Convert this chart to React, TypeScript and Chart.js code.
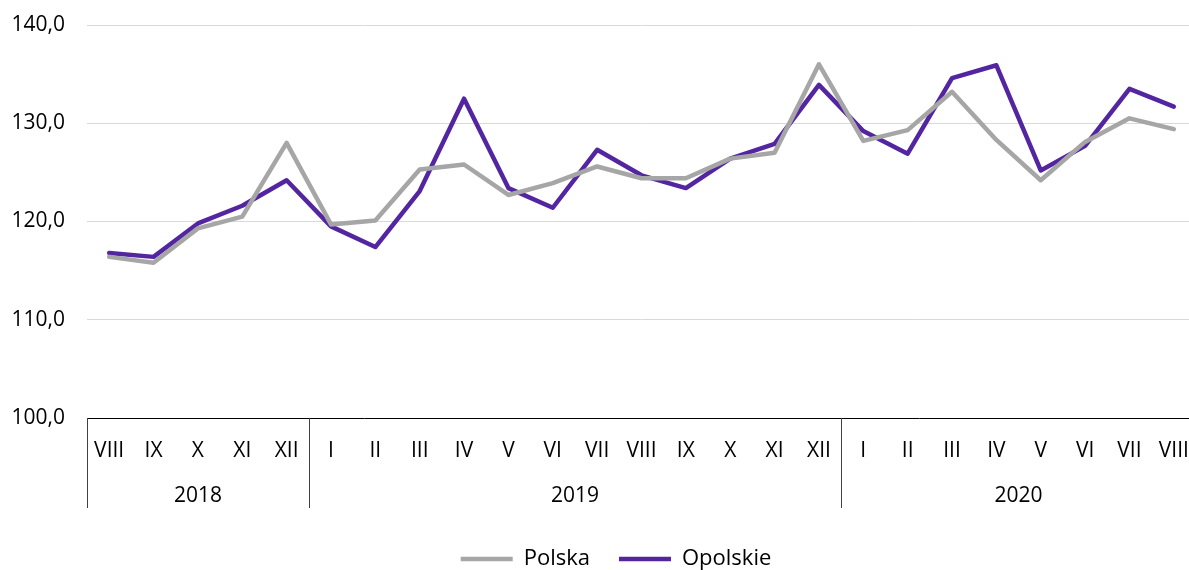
import React, { useEffect, useRef } from "react";
import { Chart, registerables } from "chart.js";

Chart.register(...registerables);

const months = ["VIII","IX","X","XI","XII","I","II","III","IV","V","VI","VII","VIII","IX","X","XI","XII","I","II","III","IV","V","VI","VII","VIII"];
const yearLabels = ["2018", "2019", "2020"];
const yearSpans = [5, 12, 8];

const polska = [116.4,115.8,119.3,120.5,128.0,119.7,120.1,125.3,125.8,122.7,123.9,125.6,124.4,124.4,126.4,127.0,136.0,128.2,129.3,133.2,128.3,124.2,128.1,130.5,129.4];
const opolskie = [116.8,116.4,119.8,121.6,124.2,119.5,117.4,123.1,132.5,123.4,121.4,127.3,124.7,123.4,126.4,127.9,133.9,129.2,126.9,134.6,135.9,125.2,127.7,133.5,131.7];

const yMin = 100;
const yMax = 140;
const yStep = 10;

const FONT = "'Open Sans', 'Noto Sans', sans-serif";
const GRAY = "#a6a6a6";
const PURPLE = "#5425a0";
const SEP_H = 90;
const X_AXIS_H = 101;
const LEGEND_SHIFT = 18;

const yearPlugin = {
  id: "yearGroups",
  afterLayout(chart: any) {
    if (chart.legend) {
      chart.legend.left += LEGEND_SHIFT;
      chart.legend.right += LEGEND_SHIFT;
    }
  },
  afterDraw(chart: any) {
    const { ctx, chartArea, scales } = chart;
    const x = scales.x;
    const top = chartArea.bottom;
    const bottom = top + SEP_H;
    const half = (x.getPixelForValue(1) - x.getPixelForValue(0)) / 2;
    ctx.save();
    ctx.strokeStyle = "#404040";
    ctx.lineWidth = 1;
    let idx = 0;
    const bounds: number[] = [x.getPixelForValue(0) - half];
    yearSpans.forEach((s) => {
      idx += s;
      bounds.push(x.getPixelForValue(idx - 1) + half);
    });
    bounds.slice(0, bounds.length - 1).forEach((bx) => {
      const px = Math.round(bx) + 0.5;
      ctx.beginPath();
      ctx.moveTo(px, top);
      ctx.lineTo(px, bottom);
      ctx.stroke();
    });
    ctx.fillStyle = "#000";
    ctx.font = `21px ${FONT}`;
    ctx.textAlign = "center";
    ctx.textBaseline = "middle";
    yearLabels.forEach((lab, i) => {
      ctx.fillText(lab, (bounds[i] + bounds[i + 1]) / 2, top + 78);
    });
    ctx.restore();
  },
};

export default function App() {
  const ref = useRef<HTMLCanvasElement>(null);
  useEffect(() => {
    if (!ref.current) return;
    const chart = new Chart(ref.current, {
      type: "line",
      data: {
        labels: months,
        datasets: [
          {
            label: "Polska",
            data: polska,
            borderColor: GRAY,
            backgroundColor: GRAY,
            borderWidth: 4.5,
            pointRadius: 0,
            borderJoinStyle: "round",
            borderCapStyle: "round",
            tension: 0,
          },
          {
            label: "Opolskie",
            data: opolskie,
            borderColor: PURPLE,
            backgroundColor: PURPLE,
            borderWidth: 4.5,
            pointRadius: 0,
            borderJoinStyle: "round",
            borderCapStyle: "round",
            tension: 0,
          },
        ],
      },
      options: {
        animation: false,
        responsive: false,
        layout: { padding: { top: 25, right: 4, left: 0, bottom: 0 } },
        font: { family: FONT },
        plugins: {
          tooltip: { enabled: false },
          legend: {
            position: "bottom",
            labels: {
              usePointStyle: true,
              pointStyle: "line",
              pointStyleWidth: 52,
              padding: 29,
              color: "#000",
              font: { family: FONT, size: 22 },
            },
          },
        },
        scales: {
          x: {
            type: "category",
            offset: true,
            grid: { display: false, drawTicks: false },
            border: { display: true, color: "#000", width: 1 },
            ticks: {
              autoSkip: false,
              maxRotation: 0,
              padding: 20,
              color: "#000",
              font: { family: FONT, size: 21 },
            },
            afterFit(scale: any) {
              scale.height = X_AXIS_H;
              scale.paddingLeft = 0;
              scale.paddingRight = 0;
            },
          },
          y: {
            min: yMin,
            max: yMax,
            grid: { color: "#d9d9d9", lineWidth: 1, drawTicks: false },
            border: { display: false },
            ticks: {
              stepSize: yStep,
              padding: 22,
              color: "#000",
              font: { family: FONT, size: 21 },
              callback: (v: any) => Number(v).toFixed(1).replace(".", ","),
            },
            afterFit(scale: any) {
              scale.width = 87;
              scale.paddingTop = 0;
              scale.paddingBottom = 0;
            },
          },
        },
      },
      plugins: [yearPlugin],
    });
    return () => chart.destroy();
  }, []);
  return (
    <div style={{ position: "absolute", left: 0, top: 0, width: 1189, height: 570, overflow: "hidden", background: "#fff" }}>
      <canvas ref={ref} width={1200} height={580} style={{ display: "block" }} />
    </div>
  );
}
